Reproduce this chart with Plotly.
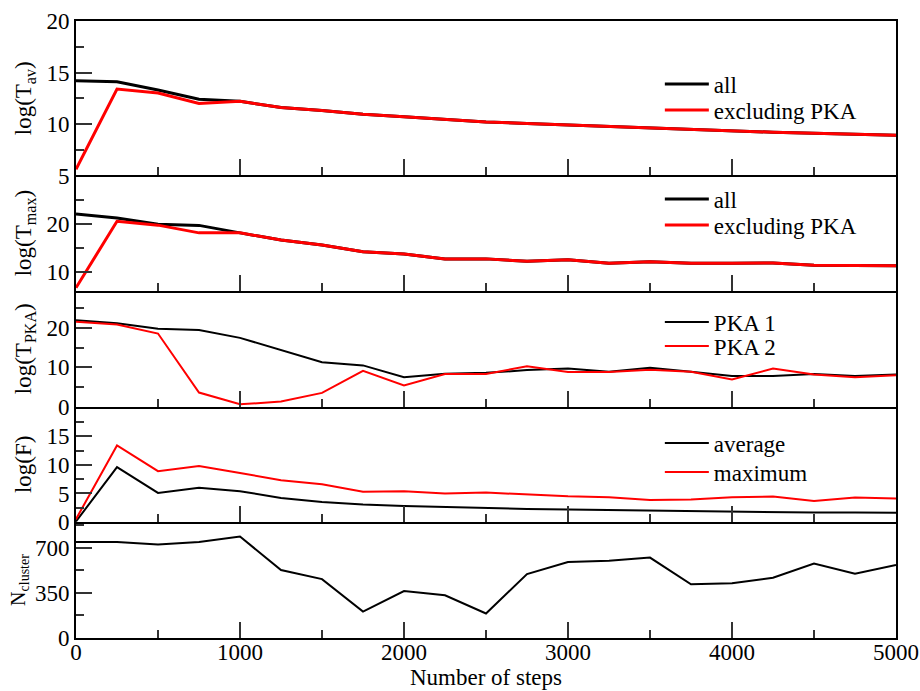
import plotly.graph_objects as go

steps = [0, 250, 500, 750, 1000, 1250, 1500, 1750, 2000, 2250, 2500,
         2750, 3000, 3250, 3500, 3750, 4000, 4250, 4500, 4750, 5000]

tav_all = [14.2, 14.1, 13.3, 12.4, 12.2, 11.6, 11.3, 10.95, 10.7, 10.45, 10.2,
           10.05, 9.9, 9.75, 9.6, 9.45, 9.35, 9.2, 9.1, 9.0, 8.9]
tav_excl = [5.6, 13.4, 13.0, 12.0, 12.2, 11.6, 11.3, 10.95, 10.7, 10.45, 10.2,
            10.05, 9.9, 9.75, 9.6, 9.45, 9.35, 9.2, 9.1, 9.0, 8.9]

tmax_all = [22.1, 21.3, 20.0, 19.75, 18.2, 16.7, 15.7, 14.3, 13.8, 12.8, 12.8,
            12.3, 12.6, 11.9, 12.2, 11.9, 11.9, 11.95, 11.5, 11.4, 11.35]
tmax_excl = [6.8, 20.6, 19.8, 18.2, 18.2, 16.7, 15.7, 14.3, 13.8, 12.8, 12.8,
             12.3, 12.6, 11.9, 12.2, 11.9, 11.9, 11.95, 11.5, 11.4, 11.35]

pka1 = [22.0, 21.2, 19.8, 19.5, 17.5, 14.4, 11.3, 10.5, 7.5, 8.4, 8.6,
        9.3, 9.7, 8.9, 9.9, 8.9, 7.8, 7.8, 8.3, 7.8, 8.2]
pka2 = [21.6, 20.9, 18.6, 3.6, 0.6, 1.3, 3.5, 9.1, 5.4, 8.3, 8.3,
        10.3, 8.8, 8.8, 9.4, 8.9, 6.9, 9.7, 8.2, 7.5, 8.0]

f_avg = [0.1, 9.6, 5.1, 6.0, 5.4, 4.2, 3.5, 3.05, 2.8, 2.6, 2.45,
         2.3, 2.2, 2.1, 1.95, 1.95, 1.85, 1.75, 1.65, 1.65, 1.6]
f_max = [0.5, 13.4, 8.9, 9.8, 8.6, 7.3, 6.6, 5.3, 5.4, 5.0, 5.15,
         4.85, 4.5, 4.35, 3.85, 3.95, 4.35, 4.45, 3.7, 4.3, 4.1]

n_cluster = [745, 745, 725, 745, 787, 527, 457, 205, 364, 332, 190,
             496, 589, 600, 624, 417, 425, 468, 577, 499, 566]

FONT = "Liberation Serif"
BLACK = "#000000"
RED = "#ff0000"

fig = go.Figure()

legend_rows = []  # (legend id, pixel row centre)

def add(x, y, name, color, width, axis, legend=None, row_px=None):
    kw = {}
    if legend:
        kw["legend"] = legend
        legend_rows.append((legend, row_px))
    fig.add_trace(go.Scatter(x=x, y=y, mode="lines", name=name,
                             line=dict(color=color, width=width),
                             xaxis="x" + axis, yaxis="y" + axis,
                             showlegend=legend is not None, **kw))

add(steps, tav_all, "all", BLACK, 3, "", "legend", 84)
add(steps, tav_excl, "excluding PKA", RED, 3, "", "legend2", 110)
add(steps, tmax_all, "all", BLACK, 3, "2", "legend3", 199)
add(steps, tmax_excl, "excluding PKA", RED, 3, "2", "legend4", 225)
add(steps, pka1, "PKA 1", BLACK, 2, "3", "legend5", 322)
add(steps, pka2, "PKA 2", RED, 2, "3", "legend6", 346)
add(steps, f_avg, "average", BLACK, 2, "4", "legend7", 443)
add(steps, f_max, "maximum", RED, 2, "4", "legend8", 472)
add(steps, n_cluster, "N", BLACK, 2, "5")

domains = [(0.7496, 1.0), (0.5629, 0.7496), (0.3749, 0.5629), (0.188, 0.3749), (0.0, 0.188)]
yranges = [(5, 20), (6.2, 30.1), (0, 29.5), (0, 20.2), (0, 900)]
ytickvals = [[5, 10, 15, 20], [10, 20], [0, 10, 20], [0, 5, 10, 15], [0, 350, 700]]
yminor = [[7.5, 12.5, 17.5], [15, 25], [5, 15, 25], [2.5, 7.5, 12.5, 17.5], [175, 525, 875]]
ytitles = ["log(T<sub>av</sub>)", "log(T<sub>max</sub>)", "log(T<sub>PKA</sub>)",
           "log(F)", "N<sub>cluster</sub>"]
ytitle_sizes = [23, 23, 23, 23, 20]
ytitle_standoff = [8, 8, 8, 8, 4]

axis_common = dict(showline=True, linecolor="black", linewidth=2,
                   ticks="inside", ticklen=16, tickwidth=1.5, tickcolor="#333333",
                   showgrid=False, zeroline=False, automargin=False,
                   tickfont=dict(family=FONT, size=23, color="black"))

TOP, BOT = 21, 53
layout = dict(width=920, height=691, plot_bgcolor="white", paper_bgcolor="white",
              margin=dict(l=76, r=24, t=TOP, b=BOT), showlegend=True,
              font=dict(family=FONT, size=23, color="black"))

for i in range(5):
    suf = "" if i == 0 else str(i + 1)
    xa = dict(axis_common, range=[0, 5000], tickvals=[0, 1000, 2000, 3000, 4000, 5000],
              minor=dict(tickvals=[500, 1500, 2500, 3500, 4500], ticks="inside",
                         ticklen=8, tickwidth=1.5, tickcolor="#333333"),
              anchor="y" + suf, showticklabels=(i == 4), mirror=(i == 0))
    if i < 4:
        xa["matches"] = "x5"
    else:
        xa["title"] = dict(text="Number of steps", font=dict(family=FONT, size=23), standoff=0)
        xa["ticklabelstandoff"] = -8
    ya = dict(axis_common, domain=list(domains[i]), range=list(yranges[i]),
              tickvals=ytickvals[i], mirror=True,
              minor=dict(tickvals=yminor[i], ticks="inside", ticklen=8,
                         tickwidth=1.5, tickcolor="#333333"),
              anchor="x" + suf,
              title=dict(text=ytitles[i], font=dict(family=FONT, size=ytitle_sizes[i]),
                         standoff=ytitle_standoff[i]))
    layout["xaxis" + suf] = xa
    layout["yaxis" + suf] = ya

plot_h = 691 - TOP - BOT
for key, row_px in legend_rows:
    layout[key] = dict(bgcolor="rgba(0,0,0,0)", borderwidth=0, visible=True,
                       font=dict(family=FONT, size=23, color="black"),
                       xanchor="left", yanchor="middle", x=0.712,
                       y=(691 - BOT - row_px) / plot_h, itemwidth=44,
                       xref="paper", yref="paper")

fig.update_layout(**layout)
fig.write_html("out.html")
